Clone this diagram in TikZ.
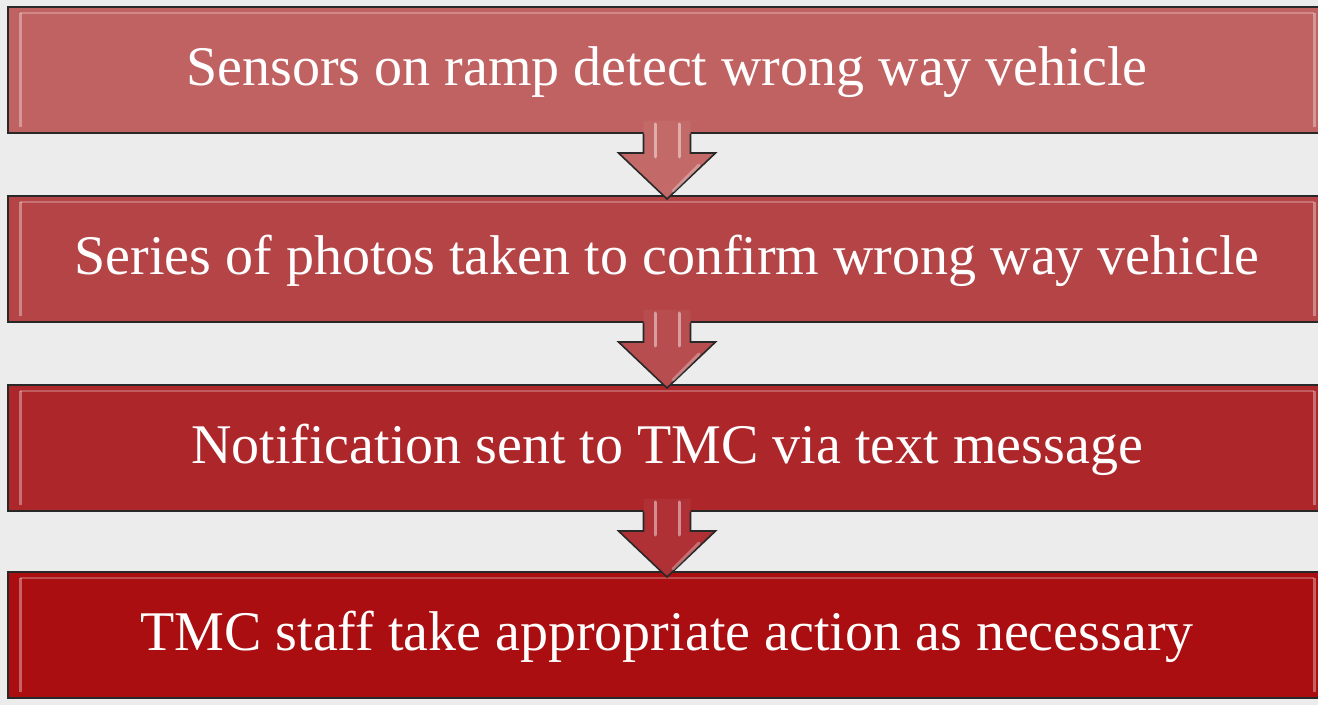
\documentclass[tikz,border=0pt]{standalone}
\usepackage{fontspec}
\setmainfont{Liberation Serif}
\usetikzlibrary{calc}
\definecolor{bgc}{RGB}{236,236,236}
\definecolor{cA}{RGB}{192,98,97}
\definecolor{cB}{RGB}{180,68,70}
\definecolor{cC}{RGB}{172,38,42}
\definecolor{cD}{RGB}{170,14,16}
\definecolor{edge}{RGB}{40,40,40}
\tikzset{
  stepbox/.style={draw=edge, line width=2pt, minimum width=1318pt, minimum height=126pt, inner sep=0pt},
  lbl/.style={text=white, font=\fontsize{56}{62}\selectfont},
  blockarrow/.style={draw=edge, line width=1.6pt, line join=miter}
}
\newcommand{\stepnode}[4]{%
  \node[stepbox, fill=#2] (#1) at (667pt,#3) {};
  \draw[white, opacity=0.35, line width=3pt] ($(#1.south west)+(13pt,7pt)$) -- ($(#1.north west)+(13pt,-7pt)$);
  \draw[white, opacity=0.35, line width=3pt] ($(#1.south east)+(-13pt,7pt)$) -- ($(#1.north east)+(-13pt,-7pt)$);
  \draw[white, opacity=0.25, line width=2pt] ($(#1.north west)+(13pt,-7pt)$) -- ($(#1.north east)+(-13pt,-7pt)$);
  \node[lbl] (#1t) at ($(#1.center)+(0pt,-2pt)$) {#4};
}
\newcommand{\arrownode}[3]{%
  \coordinate (#1) at ($(#2.south)+(0pt,13pt)$);
  \fill[#3] ($(#1)+(-23.5pt,0pt)$) -- ($(#1)+(-23.5pt,-32pt)$) -- ($(#1)+(-48.5pt,-32pt)$) -- ($(#1)+(0pt,-78pt)$) -- ($(#1)+(48.5pt,-32pt)$) -- ($(#1)+(23.5pt,-32pt)$) -- ($(#1)+(23.5pt,0pt)$) -- cycle;
  \draw[blockarrow] ($(#2.south)+(-23.5pt,0pt)$) -- ($(#1)+(-23.5pt,-32pt)$) -- ($(#1)+(-48.5pt,-32pt)$) -- ($(#1)+(0pt,-78pt)$) -- ($(#1)+(48.5pt,-32pt)$) -- ($(#1)+(23.5pt,-32pt)$) -- ($(#2.south)+(23.5pt,0pt)$);
  \draw[white, opacity=0.45, line width=3pt, line cap=round] ($(#1)+(-12pt,-3pt)$) -- ($(#1)+(-12pt,-36pt)$);
  \draw[white, opacity=0.45, line width=3pt, line cap=round] ($(#1)+(12pt,-3pt)$) -- ($(#1)+(12pt,-36pt)$);
  \draw[white, opacity=0.3, line width=3pt, line cap=round] ($(#1)+(6pt,-70pt)$) -- ($(#1)+(32pt,-44pt)$);
}
\begin{document}
\begin{tikzpicture}[x=1pt,y=1pt]
\useasboundingbox (0,0) rectangle (1318,705);
\fill[bgc] (0,0) rectangle (1318,705);
\stepnode{b1}{cA}{635pt}{Sensors on ramp detect wrong way vehicle}
\stepnode{b2}{cB}{446pt}{Series of photos taken to confirm wrong way vehicle}
\stepnode{b3}{cC}{257pt}{Notification sent to TMC via text message}
\stepnode{b4}{cD}{70pt}{TMC staff take appropriate action as necessary}
\arrownode{a1}{b1}{cA!95!white}
\arrownode{a2}{b2}{cB!95!white}
\arrownode{a3}{b3}{cC!95!white}
\end{tikzpicture}
\end{document}
